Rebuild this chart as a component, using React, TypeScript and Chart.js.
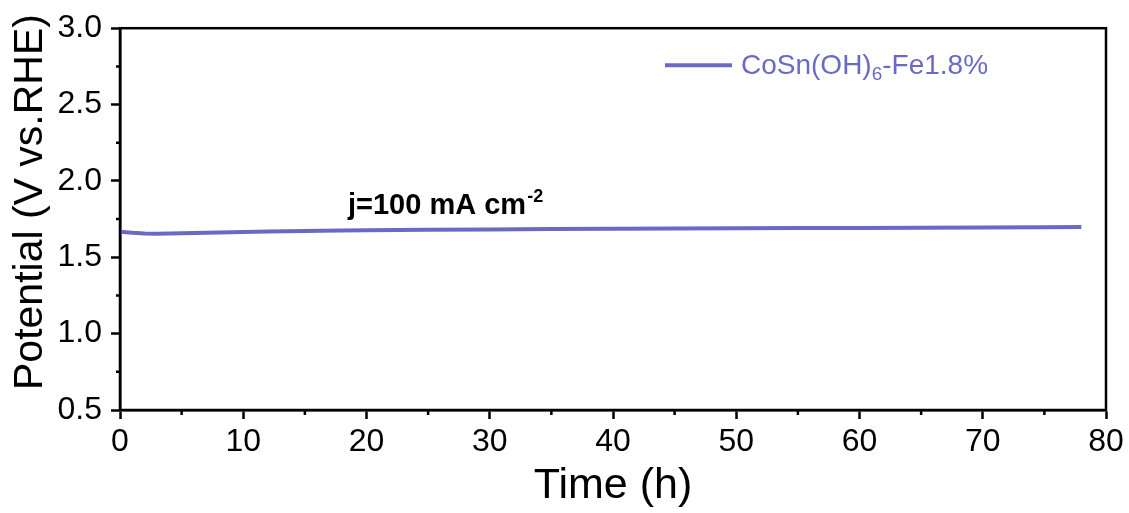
import React, { useEffect, useRef } from "react";
import { Chart, registerables } from "chart.js";

Chart.register(...registerables);

// ---- data ----
const timeHours: number[] = [0, 1, 2, 3, 4, 6, 8, 10, 12, 15, 18, 20, 25, 30, 35, 40, 45, 50, 55, 60, 65, 70, 75, 78];
const potentialV: number[] = [1.668, 1.660, 1.655, 1.654, 1.656, 1.659, 1.662, 1.665, 1.668, 1.672, 1.675, 1.677, 1.680, 1.682, 1.685, 1.687, 1.688, 1.690, 1.691, 1.692, 1.694, 1.695, 1.697, 1.698];
const seriesLabelMain = "CoSn(OH)";
const seriesLabelSub = "6";
const seriesLabelTail = "-Fe1.8%";
const annotationMain = "j=100 mA cm";
const annotationSup = "-2";
const xMinorTicks: number[] = [5, 15, 25, 35, 45, 55, 65, 75];
const yMinorTicks: number[] = [0.75, 1.25, 1.75, 2.25, 2.75];
const xTitle = "Time (h)";
const yTitle = "Potential (V vs.RHE)";

const LINE_COLOR = "#6a6ac6";
const FONT = "'Liberation Sans', Arial, Helvetica, sans-serif";

const overlayPlugin = {
  id: "overlay",
  afterDraw(chart: any) {
    const { ctx, chartArea } = chart;
    const xs = chart.scales.x;
    const ys = chart.scales.y;
    ctx.save();
    // frame
    ctx.strokeStyle = "#000";
    ctx.lineWidth = 2.5;
    ctx.strokeRect(chartArea.left, chartArea.top, chartArea.right - chartArea.left, chartArea.bottom - chartArea.top);
    // minor ticks
    ctx.lineWidth = 2.5;
    ctx.beginPath();
    for (const v of xMinorTicks) {
      const px = xs.getPixelForValue(v);
      ctx.moveTo(px, chartArea.bottom);
      ctx.lineTo(px, chartArea.bottom + 5);
    }
    for (const v of yMinorTicks) {
      const py = ys.getPixelForValue(v);
      ctx.moveTo(chartArea.left, py);
      ctx.lineTo(chartArea.left - 4, py);
    }
    ctx.stroke();

    // legend
    const lx = chartArea.left + 545;
    const ly = chartArea.top + 37;
    ctx.strokeStyle = LINE_COLOR;
    ctx.lineWidth = 4;
    ctx.beginPath();
    ctx.moveTo(lx, ly);
    ctx.lineTo(lx + 67, ly);
    ctx.stroke();
    ctx.fillStyle = LINE_COLOR;
    ctx.textBaseline = "alphabetic";
    ctx.textAlign = "left";
    let tx = lx + 76;
    const tb = ly + 9;
    ctx.font = `28px ${FONT}`;
    ctx.fillText(seriesLabelMain, tx, tb);
    tx += ctx.measureText(seriesLabelMain).width;
    ctx.font = `19px ${FONT}`;
    ctx.fillText(seriesLabelSub, tx, tb + 6);
    tx += ctx.measureText(seriesLabelSub).width;
    ctx.font = `28px ${FONT}`;
    ctx.fillText(seriesLabelTail, tx, tb);

    // annotation
    ctx.fillStyle = "#000";
    let ax = chartArea.left + 228;
    const ab = chartArea.top + 186;
    ctx.font = `bold 29px ${FONT}`;
    ctx.fillText(annotationMain, ax, ab);
    ax += ctx.measureText(annotationMain).width + 1;
    ctx.font = `bold 18px ${FONT}`;
    ctx.fillText(annotationSup, ax, ab - 12);
    ctx.restore();
  },
};

export default function App() {
  const canvasRef = useRef<HTMLCanvasElement | null>(null);

  useEffect(() => {
    if (!canvasRef.current) return;
    const chart = new Chart(canvasRef.current, {
      type: "line",
      data: {
        datasets: [
          {
            label: seriesLabelMain + seriesLabelSub + seriesLabelTail,
            data: timeHours.map((t, i) => ({ x: t, y: potentialV[i] })),
            borderColor: LINE_COLOR,
            backgroundColor: LINE_COLOR,
            borderWidth: 4,
            pointRadius: 0,
            tension: 0,
            fill: false,
          },
        ],
      },
      options: {
        animation: false,
        responsive: false,
        maintainAspectRatio: false,
        layout: { padding: { top: 28, right: 23, left: 0, bottom: 0 } },
        plugins: {
          legend: { display: false },
          tooltip: { enabled: false },
          title: { display: false },
        },
        scales: {
          x: {
            type: "linear",
            min: 0,
            max: 80,
            offset: false,
            afterFit: (s: any) => {
              s.height = 103;
            },
            ticks: {
              stepSize: 10,
              color: "#000",
              font: { family: FONT, size: 32 },
              padding: 4,
              maxRotation: 0,
            },
            grid: {
              drawOnChartArea: false,
              drawTicks: true,
              tickLength: 9,
              tickWidth: 2.5,
              tickColor: "#000",
            },
            border: { display: true, color: "#000", width: 2.5 },
            title: {
              display: true,
              text: xTitle,
              color: "#000",
              font: { family: FONT, size: 43 },
              padding: { top: 0, bottom: 1 },
            },
          },
          y: {
            type: "linear",
            min: 0.5,
            max: 3.0,
            afterFit: (s: any) => {
              s.width = 120;
            },
            ticks: {
              stepSize: 0.5,
              color: "#000",
              font: { family: FONT, size: 32 },
              padding: 9,
              callback: (v: any) => Number(v).toFixed(1),
            },
            grid: {
              drawOnChartArea: false,
              drawTicks: true,
              tickLength: 9,
              tickWidth: 2.5,
              tickColor: "#000",
            },
            border: { display: true, color: "#000", width: 2.5 },
            title: {
              display: true,
              text: "   " + yTitle,
              color: "#000",
              font: { family: FONT, size: 41 },
              padding: { top: 6, bottom: 0 },
            },
          },
        },
      },
      plugins: [overlayPlugin],
    });
    return () => chart.destroy();
  }, []);

  return (
    <div style={{ position: "fixed", left: 0, top: 0, width: 1129, height: 513, background: "#fff" }}>
      <canvas ref={canvasRef} width={1129} height={513} style={{ width: 1129, height: 513, display: "block" }} />
    </div>
  );
}
